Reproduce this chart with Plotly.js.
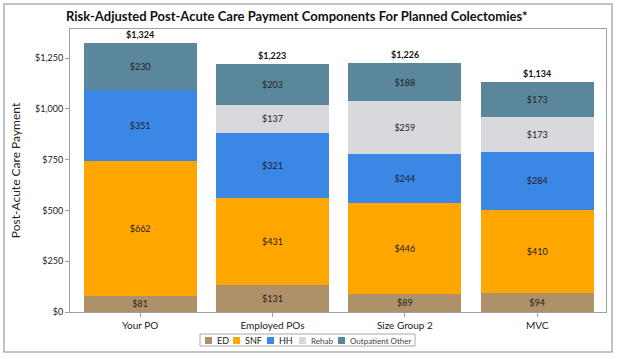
<!DOCTYPE html>
<html>
<head>
<meta charset="utf-8">
<script src="https://cdn.plot.ly/plotly-3.0.1.min.js"></script>
<style>html,body{margin:0;padding:0;background:#fff;}#chart{width:621px;height:359px;}</style>
</head>
<body>
<div id="chart"></div>
<script>
var categories = ["Your PO", "Employed POs", "Size Group 2", "MVC"];
var seriesNames = ["ED", "SNF", "HH", "Rehab", "Outpatient Other"];
var edValues = [81, 131, 89, 94];
var snfValues = [662, 431, 446, 410];
var hhValues = [351, 321, 244, 284];
var rehabValues = [0, 137, 259, 173];
var outpatientValues = [230, 203, 188, 173];
var totalValues = [1324, 1223, 1226, 1134];
var yTickValues = [0, 250, 500, 750, 1000, 1250];
var yTickLabels = ["$0", "$250", "$500", "$750", "$1,000", "$1,250"];

var colors = ["#AF9169", "#FFA600", "#3A87E6", "#D7D9DC", "#5B879D"];
var seriesValues = [edValues, snfValues, hhValues, rehabValues, outpatientValues];
var FONT = "Lato, 'Noto Sans', sans-serif";

// plot area geometry in pixels (layout only)
var W = 621, H = 359, ML = 70, MR = 15, MT = 29, MB = 47;
var PW = W - ML - MR, PH = H - MT - MB;
function px(x) { return (x - ML) / PW; }
function py(y) { return (H - MB - y) / PH; }

var traces = seriesValues.map(function (vals, i) {
  return {
    type: "bar",
    name: seriesNames[i],
    x: categories,
    y: vals,
    marker: {color: colors[i], line: {width: 0}},
    text: vals.map(function (v) { return v > 0 ? "$" + v : ""; }),
    textposition: "inside",
    insidetextanchor: "middle",
    textangle: 0,
    constraintext: "none",
    textfont: {family: FONT, size: 9, color: "#222"},
    hoverinfo: "skip"
  };
});

var annotations = categories.map(function (c, i) {
  return {
    x: c, y: totalValues[i], xref: "x", yref: "y",
    text: "<b>$" + totalValues[i].toLocaleString("en-US") + "</b>",
    showarrow: false, yanchor: "bottom", yshift: 1,
    font: {family: FONT, size: 9, color: "#111"}
  };
});

var shapes = [{
  type: "rect", xref: "paper", yref: "paper",
  x0: px(4), x1: px(612), y0: py(352), y1: py(4),
  line: {color: "#B0B0B0", width: 1.5}, fillcolor: "rgba(0,0,0,0)", layer: "below"
}, {
  type: "rect", xref: "paper", yref: "paper",
  x0: px(200), x1: px(415), y0: py(346), y1: py(334),
  line: {color: "#A8A8A8", width: 1}, fillcolor: "rgba(0,0,0,0)"
}];

// custom compact legend
var legendSquareX = [205, 233, 267, 299, 338];
seriesNames.forEach(function (name, i) {
  var sx = legendSquareX[i];
  shapes.push({
    type: "rect", xref: "paper", yref: "paper",
    x0: px(sx), x1: px(sx + 7), y0: py(344), y1: py(337),
    line: {width: 0}, fillcolor: colors[i]
  });
  annotations.push({
    x: px(sx + 10), y: py(340.5), xref: "paper", yref: "paper",
    xanchor: "left", yanchor: "middle", showarrow: false,
    text: name, font: {family: FONT, size: i < 3 ? 9 : 8, color: i < 3 ? "#222" : "#444"}
  });
});

var layout = {
  width: W, height: H,
  margin: {l: ML, r: MR, t: MT, b: MB},
  paper_bgcolor: "#fff", plot_bgcolor: "#fff",
  barmode: "stack", bargap: 0.145,
  showlegend: false,
  font: {family: FONT, color: "#222"},
  title: {
    text: "<b>Risk-Adjusted Post-Acute Care Payment Components For Planned Colectomies*</b>",
    x: 0.478, xref: "container", xanchor: "center",
    y: 0.955, yref: "container", yanchor: "middle",
    font: {family: FONT, size: 13, color: "#111"}
  },
  xaxis: {
    type: "category", range: [-0.53, 3.52],
    showline: true, linecolor: "#A0A0A0", linewidth: 1, mirror: true,
    ticks: "outside", ticklen: 4, tickcolor: "#A0A0A0",
    tickfont: {family: FONT, size: 10, color: "#222"},
    showgrid: false, fixedrange: true
  },
  yaxis: {
    range: [0, 1393],
    tickvals: yTickValues, ticktext: yTickLabels,
    showline: true, linecolor: "#A0A0A0", linewidth: 1, mirror: true,
    ticks: "outside", ticklen: 4, tickcolor: "#A0A0A0",
    tickfont: {family: FONT, size: 9, color: "#222"},
    showgrid: false, zeroline: false,
    title: {text: "Post-Acute Care Payment", font: {family: FONT, size: 12, color: "#222"}, standoff: 11}
  },
  annotations: annotations,
  shapes: shapes
};

Plotly.newPlot("chart", traces, layout, {displayModeBar: false, staticPlot: true});
</script>
</body>
</html>
